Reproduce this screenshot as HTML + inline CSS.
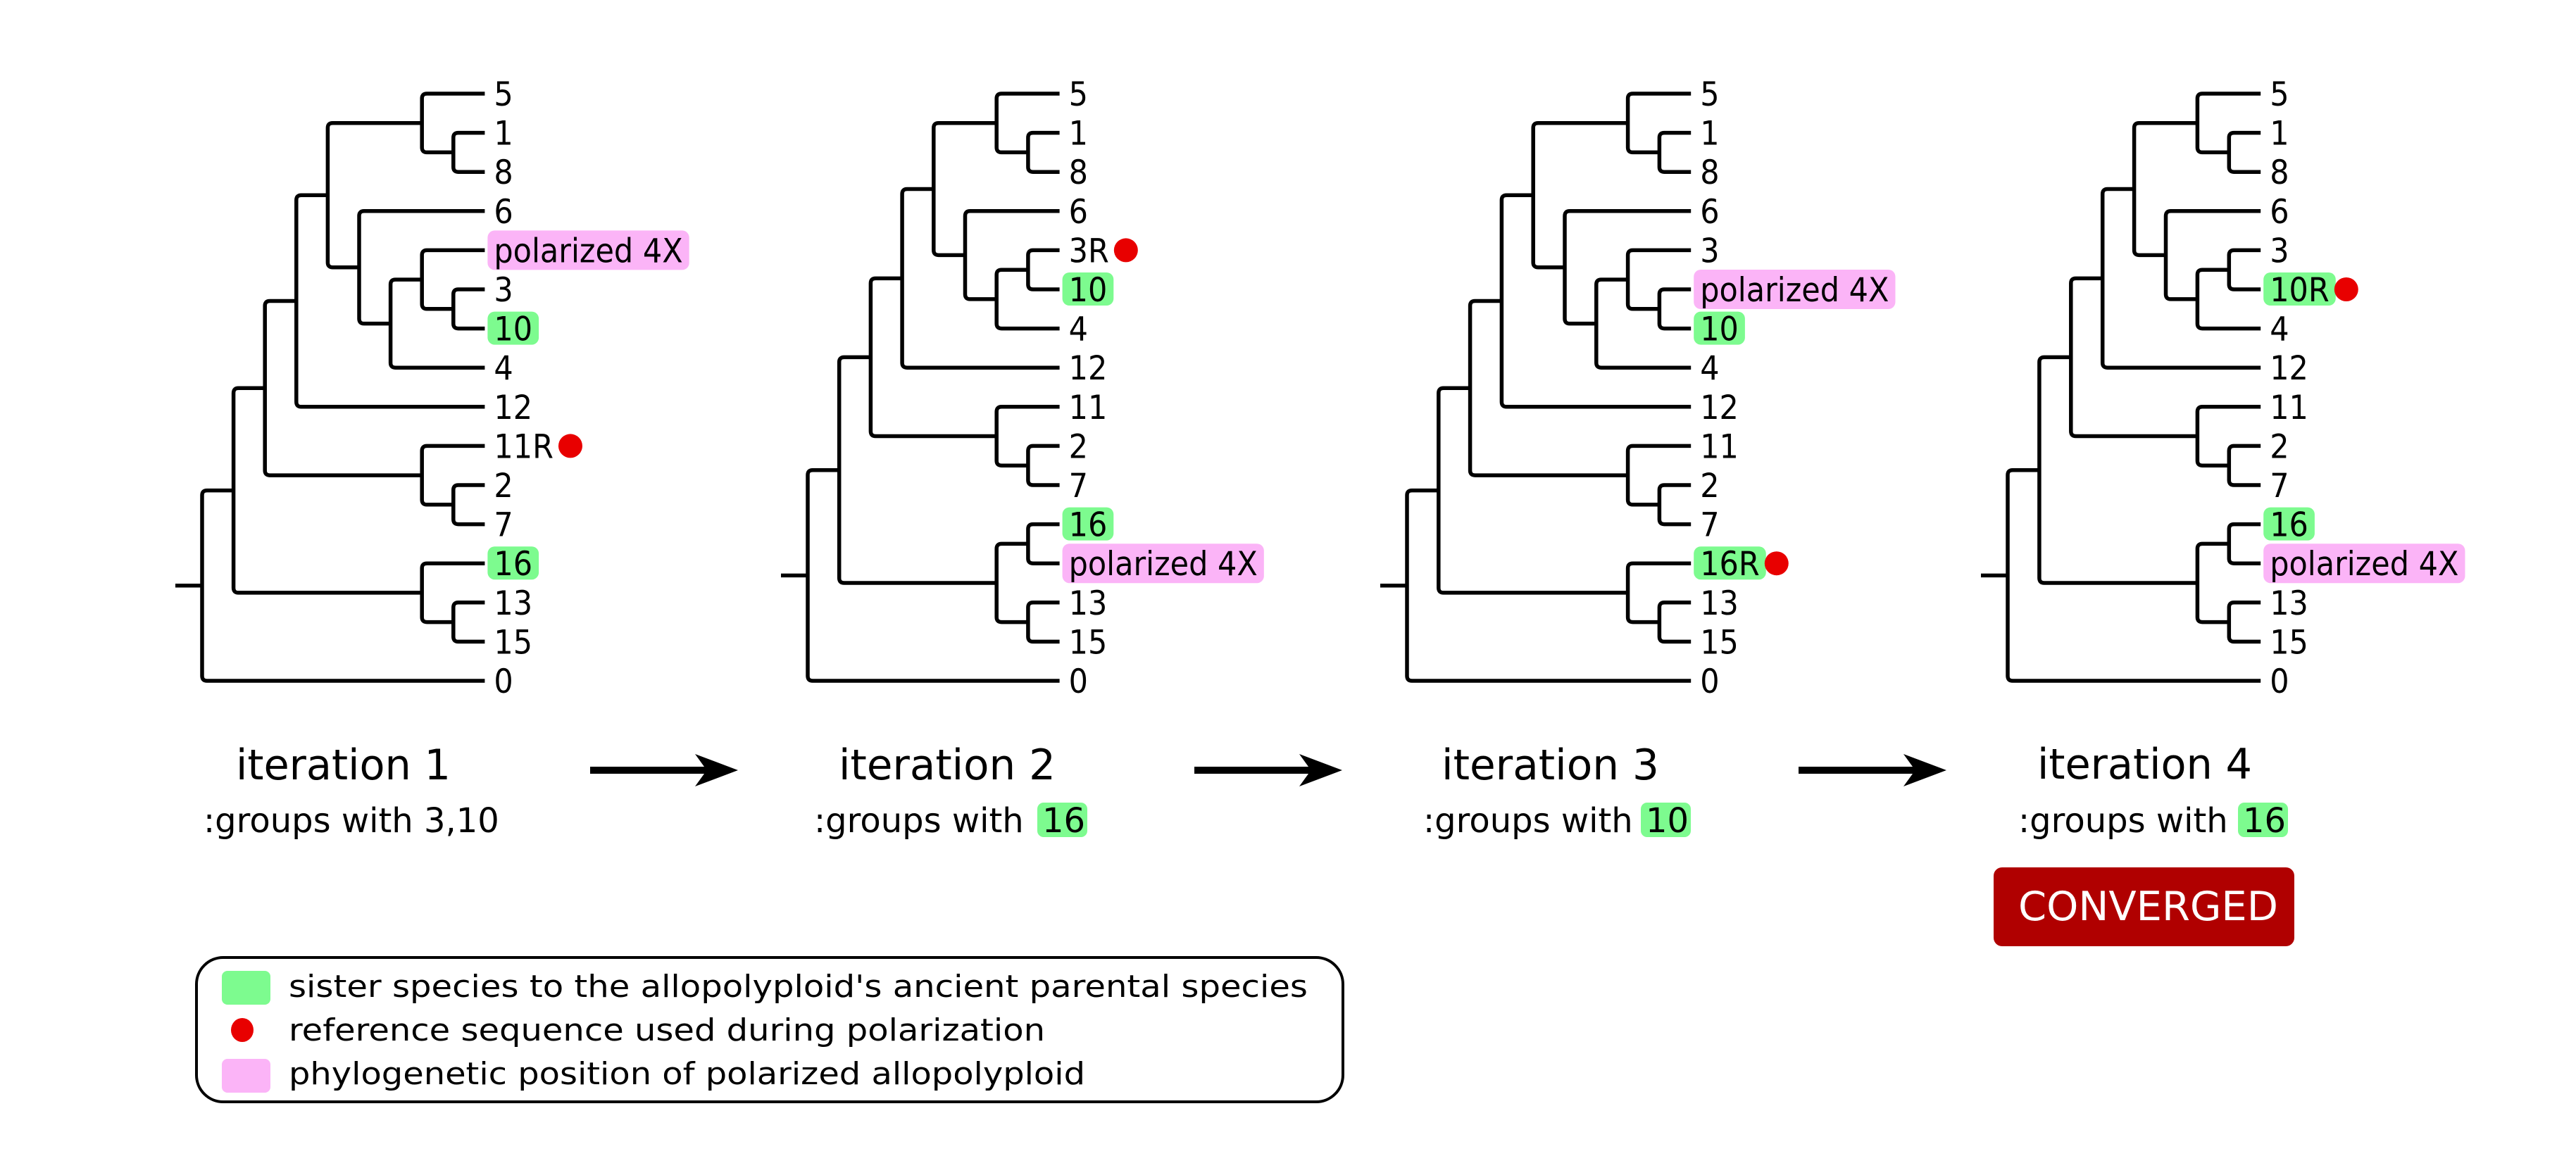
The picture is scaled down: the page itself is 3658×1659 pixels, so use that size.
<!DOCTYPE html>
<html><head><meta charset="utf-8"><style>
html,body{margin:0;padding:0;background:#fff;}
svg{display:block;font-family:"DejaVu Sans","Liberation Sans",sans-serif;}
</style></head><body>
<svg id="s" width="3658" height="1659" viewBox="0 0 3658 1659" xmlns="http://www.w3.org/2000/svg">
<rect width="3658" height="1659" fill="#fff"/>
<g id="trees"></g>
<g font-size="60" fill="#000">
<text x="335" y="1107" textLength="305" lengthAdjust="spacingAndGlyphs">iteration 1</text>
<text x="1191" y="1107" textLength="308" lengthAdjust="spacingAndGlyphs">iteration 2</text>
<text x="2047" y="1107" textLength="309" lengthAdjust="spacingAndGlyphs">iteration 3</text>
<text x="2893" y="1106" textLength="305" lengthAdjust="spacingAndGlyphs">iteration 4</text>
</g>
<g font-size="48" fill="#000">
<text x="289" y="1182">:groups with 3,10</text>
<rect x="1473" y="1140" width="71" height="49" rx="9" fill="#7dfb8f"/>
<text x="1156" y="1182">:groups with <tspan x="1480">16</tspan></text>
<rect x="2330" y="1140" width="71" height="49" rx="9" fill="#7dfb8f"/>
<text x="2021" y="1182">:groups with <tspan x="2337">10</tspan></text>
<rect x="3178" y="1140" width="71" height="49" rx="9" fill="#7dfb8f"/>
<text x="2866" y="1182">:groups with <tspan x="3185">16</tspan></text>
</g>
<g fill="#000">
<path d="M838,1089 H1000 L987,1071 L1048,1094 L987,1117 L1000,1099 H838 Z"/>
<path d="M1696,1089 H1858 L1845,1071 L1906,1094 L1845,1117 L1858,1099 H1696 Z"/>
<path d="M2554,1089 H2716 L2703,1071 L2764,1094 L2703,1117 L2716,1099 H2554 Z"/>
</g>
<rect x="2831" y="1232" width="427" height="112" rx="12" fill="#b00000"/>
<text x="2866" y="1307" font-size="57" fill="#fff" textLength="369" lengthAdjust="spacingAndGlyphs">CONVERGED</text>
<rect x="279" y="1360" width="1628" height="205" rx="38" fill="none" stroke="#000" stroke-width="4"/>
<rect x="315" y="1379" width="69" height="48" rx="8" fill="#7dfb8f"/>
<ellipse cx="344" cy="1463" rx="16" ry="17" fill="#e80000"/>
<rect x="315" y="1504" width="69" height="48" rx="8" fill="#fbb4f7"/>
<g font-size="44" fill="#000">
<text x="410" y="1416" textLength="1447" lengthAdjust="spacingAndGlyphs">sister species to the allopolyploid's ancient parental species</text>
<text x="410" y="1478" textLength="1074" lengthAdjust="spacingAndGlyphs">reference sequence used during polarization</text>
<text x="410" y="1540" textLength="1131" lengthAdjust="spacingAndGlyphs">phylogenetic position of polarized allopolyploid</text>
</g>
</svg>
<script>
(function(){
var NS="http://www.w3.org/2000/svg";
var g=document.getElementById("trees");
function N(d,c){return {d:d,c:c};}
function el(n,a,t){var e=document.createElementNS(NS,n);for(var k in a)e.setAttribute(k,a[k]);if(t!==undefined)e.textContent=t;g.appendChild(e);return e;}
var t1=N(0,[N(1,[N(2,[N(3,[N(4,[N(7,['5',N(8,['1','8'])]),N(5,['6',N(6,[N(7,['pol',N(8,['3','10g'])]),'4'])])]),'12']),N(7,['11R',N(8,['2','7'])])]),N(7,['16g',N(8,['13','15'])])]),'0']);
var t2=N(0,[N(1,[N(2,[N(3,[N(4,[N(6,['5',N(7,['1','8'])]),N(5,['6',N(6,[N(7,['3R','10g']),'4'])])]),'12']),N(6,['11',N(7,['2','7'])])]),N(6,[N(7,['16g','pol']),N(7,['13','15'])])]),'0']);
var t3=N(0,[N(1,[N(2,[N(3,[N(4,[N(7,['5',N(8,['1','8'])]),N(5,['6',N(6,[N(7,['3',N(8,['pol','10g'])]),'4'])])]),'12']),N(7,['11',N(8,['2','7'])])]),N(7,['16Rg',N(8,['13','15'])])]),'0']);
var t4=N(0,[N(1,[N(2,[N(3,[N(4,[N(6,['5',N(7,['1','8'])]),N(5,['6',N(6,[N(7,['3','10Rg']),'4'])])]),'12']),N(6,['11',N(7,['2','7'])])]),N(6,[N(7,['16g','pol']),N(7,['13','15'])])]),'0']);
var trees=[[t1,287,44.6,9],[t2,1147,44.7,8],[t3,1998,44.8,9],[t4,2851,44.9,8]];
var Y0=133,DY=55.6,r=7,SW=5.5;
trees.forEach(function(T){
  var root=T[0],x0=T[1],st=T[2],LD=T[3],idx=0,leafEnd=x0+LD*st;
  function lay(n){
    if(typeof n==='string'){var y=Y0+DY*(idx++);return {x:leafEnd,y:y};}
    var ch=n.c.map(lay);var a=ch[0],b=ch[ch.length-1];
    var x=x0+n.d*st,y=(a.y+b.y)/2;
    el('path',{d:'M'+a.x+','+a.y+' H'+(x+r)+' Q'+x+','+a.y+' '+x+','+(a.y+r)+' V'+(b.y-r)+' Q'+x+','+b.y+' '+(x+r)+','+b.y+' H'+b.x,fill:'none',stroke:'#000','stroke-width':SW});
    return {x:x,y:y};
  }
  var rt=lay(root);
  el('line',{x1:x0-38,y1:rt.y,x2:x0,y2:rt.y,stroke:'#000','stroke-width':SW});
  idx=0;
  function labels(n){
    if(typeof n!=='string'){n.c.forEach(labels);return;}
    var y=Y0+DY*(idx++);var s=n,green=false,red=false,pol=false;
    if(s.slice(-1)==='g'){green=true;s=s.slice(0,-1);}
    if(s==='pol'){pol=true;s='polarized 4X';}
    if(s.indexOf('R')>0)red=true;
    var bg=null;
    if(green||pol)bg=el('rect',{x:leafEnd+4,y:y-(pol?28:24),width:10,height:pol?56:47,rx:10,fill:pol?'#fbb4f7':'#7dfb8f'});
    var t=el('text',{x:leafEnd+13,y:y+17,'font-size':43,fill:'#000',transform:'translate(0,'+(y+17)+') scale(1,1.1) translate(0,'+(-(y+17))+')'},s);
    var w=t.getComputedTextLength();
    if(bg)bg.setAttribute('width',w+18);
    if(red)el('circle',{cx:leafEnd+13+w+24,cy:y,r:17,fill:'#e80000'});
  }
  labels(root);
});
})();
</script>
</body></html>
